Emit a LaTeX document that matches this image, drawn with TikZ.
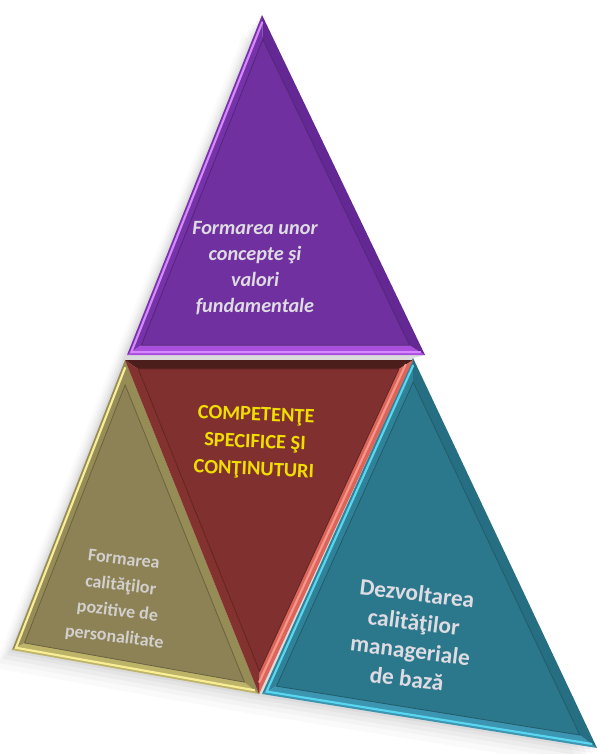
\documentclass[tikz,border=0pt]{standalone}
\usepackage{fontspec}
\setmainfont{Carlito}
\usetikzlibrary{calc}
\definecolor{purpIn}{RGB}{112,48,160}
\definecolor{purpL}{RGB}{118,50,168}
\definecolor{purpB}{RGB}{170,78,222}
\definecolor{purpR}{RGB}{100,40,148}
\definecolor{purpHi}{RGB}{215,135,255}
\definecolor{redIn}{RGB}{128,48,46}
\definecolor{redT}{RGB}{75,30,28}
\definecolor{redR}{RGB}{220,100,90}
\definecolor{redL}{RGB}{132,50,48}
\definecolor{redHi}{RGB}{245,150,135}
\definecolor{olvIn}{RGB}{140,130,85}
\definecolor{olvL}{RGB}{150,140,88}
\definecolor{olvB}{RGB}{190,180,105}
\definecolor{olvR}{RGB}{150,140,86}
\definecolor{olvHi}{RGB}{248,238,150}
\definecolor{tealIn}{RGB}{43,120,140}
\definecolor{tealL}{RGB}{48,130,152}
\definecolor{tealB}{RGB}{60,150,178}
\definecolor{tealR}{RGB}{38,110,130}
\definecolor{tealHi}{RGB}{90,215,240}
\definecolor{ytext}{RGB}{240,222,0}
\definecolor{ltext}{RGB}{222,220,226}
\newcommand\bevtri[6]{%
 \coordinate (#1a) at ($(#11)!#2!(#1g)$);
 \coordinate (#1b) at ($(#12)!#2!(#1g)$);
 \coordinate (#1c) at ($(#13)!#2!(#1g)$);
 \fill[#3] (#11)--(#12)--(#1b)--(#1a)--cycle;
 \fill[#4] (#12)--(#13)--(#1c)--(#1b)--cycle;
 \fill[#5] (#13)--(#11)--(#1a)--(#1c)--cycle;
 \fill[#6] (#1a)--(#1b)--(#1c)--cycle;
 \draw[#6!75!black, line width=0.6pt] (#1a)--(#1b)--(#1c)--cycle;
}
\tikzset{
 hl/.style={line width=1.6pt, line cap=round},
 txt/.style={align=center, inner sep=0pt},
}
\begin{document}
\begin{tikzpicture}[x=0.75pt,y=-0.75pt]
\useasboundingbox (0,0) rectangle (598,754);
% shadow
\foreach \d/\o in {18/0.02,13/0.025,9/0.03,5/0.035,2/0.04}{
 \fill[black, opacity=\o] (262-\d,15+\d) -- (125-\d,358+\d) -- (12-\d,650+\d) -- (259-\d,694+\d) -- (597-\d,748+\d) -- (413,358) -- (425,355) -- cycle;
}
% coordinates
\coordinate (P1) at (262,15);
\coordinate (P2) at (127,355);
\coordinate (P3) at (425,355);
\coordinate (Pg) at (barycentric cs:P1=0.298,P2=0.377,P3=0.366);
\coordinate (R1) at (125,360);
\coordinate (R2) at (413,360);
\coordinate (R3) at (259,694);
\coordinate (Rg) at (barycentric cs:R1=0.368,R2=0.360,R3=0.288);
\coordinate (O1) at (125,360);
\coordinate (O2) at (12,650);
\coordinate (O3) at (259,694);
\coordinate (Og) at (barycentric cs:O1=0.251,O2=0.360,O3=0.311);
\coordinate (T1) at (413,358);
\coordinate (T2) at (262,694);
\coordinate (T3) at (597,748);
\coordinate (Tg) at (barycentric cs:T1=0.339,T2=0.431,T3=0.368);
% triangles
\bevtri{O}{0.11}{olvL}{olvB}{olvR}{olvIn}
\draw[hl, olvHi] ($(O1)!0.035!(Og)$) -- ($(O2)!0.035!(Og)$) -- ($(O3)!0.035!(Og)$);
\bevtri{T}{0.095}{tealL}{tealB}{tealR}{tealIn}
\draw[hl, tealHi] ($(T1)!0.03!(Tg)$) -- ($(T2)!0.03!(Tg)$) -- ($(T3)!0.03!(Tg)$);
\bevtri{R}{0.095}{redT}{redR}{redL}{redIn}
\draw[hl, redHi] ($(R2)!0.05!(Rg)$) -- ($(R3)!0.05!(Rg)$);
\bevtri{P}{0.1}{purpL}{purpB}{purpR}{purpIn}
\draw[hl, purpHi] ($(P1)!0.03!(Pg)$) -- ($(P2)!0.03!(Pg)$) -- ($(P3)!0.03!(Pg)$);
% texts
\node[txt, text=ltext, font=\bfseries\itshape\fontsize{15.2}{19.3}\selectfont] (tp) at (255,268) {Formarea unor\\concepte şi\\valori\\fundamentale};
\node[txt, text=ytext, rotate=-2.5, font=\bfseries\fontsize{15.3}{20.5}\selectfont] (tr) at (255,443) {COMPETENŢE\\SPECIFICE ŞI\\CONŢINUTURI};
\node[txt, text=ltext!85!olvIn, rotate=-7, font=\bfseries\fontsize{13.5}{19.5}\selectfont] (to) at (119,599) {Formarea\\calităţilor\\pozitive de\\personalitate};
\node[txt, text=ltext, rotate=-7, font=\bfseries\fontsize{17.5}{21.5}\selectfont] (tt) at (412,636) {Dezvoltarea\\calităţilor\\manageriale\\de bază};
\end{tikzpicture}
\end{document}
